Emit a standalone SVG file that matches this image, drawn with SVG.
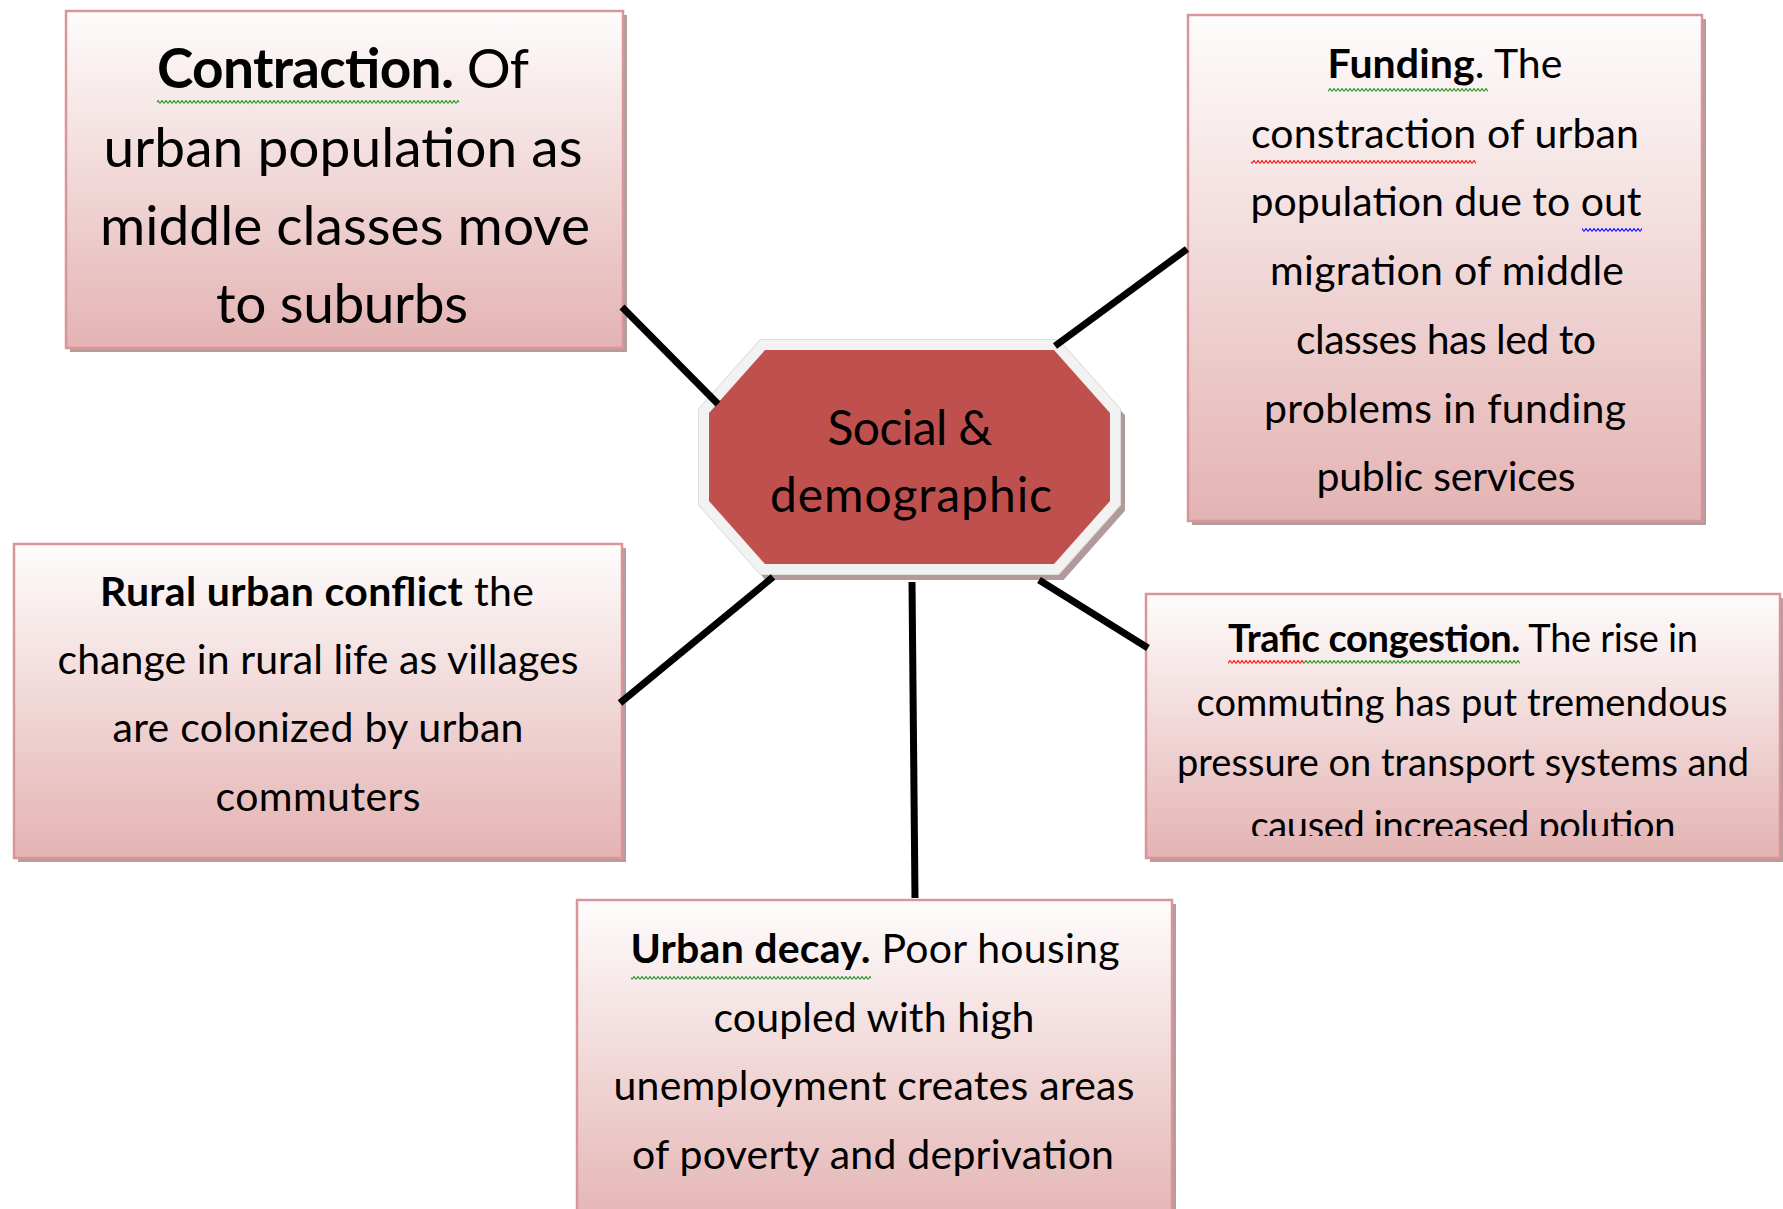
<svg xmlns="http://www.w3.org/2000/svg" width="1783" height="1209" viewBox="0 0 1783 1209">
<defs>
<linearGradient id="boxGrad" x1="0" y1="0" x2="0" y2="1">
<stop offset="0" stop-color="#fefcfc"/>
<stop offset="1" stop-color="#e4b3b3"/>
</linearGradient>
<pattern id="sqGreen" x="0" y="0" width="4" height="4" patternUnits="userSpaceOnUse">
<path d="M0,3.5 L2,0.5 L4,3.5" fill="none" stroke="#2f9a2f" stroke-width="1.2"/>
</pattern>
<pattern id="sqRed" x="0" y="0" width="4" height="4" patternUnits="userSpaceOnUse">
<path d="M0,3.5 L2,0.5 L4,3.5" fill="none" stroke="#ff1a1a" stroke-width="1.2"/>
</pattern>
<pattern id="sqBlue" x="0" y="0" width="4" height="4" patternUnits="userSpaceOnUse">
<path d="M0,3.5 L2,0.5 L4,3.5" fill="none" stroke="#1a1aff" stroke-width="1.2"/>
</pattern>
<clipPath id="trafClip"><rect x="1146" y="594" width="634" height="242"/></clipPath>
</defs>
<style>
.shadow{fill:#b39d9d;}
.box{fill:url(#boxGrad);stroke:#d9969a;stroke-width:2.5;}
.t{font-family:Lato,"Liberation Sans",sans-serif;fill:#000;text-anchor:middle;}
.b{font-weight:bold;}
.conn{stroke:#000;stroke-width:7;fill:none;stroke-linecap:butt;}
</style>

<g id="center">
<polygon points="765,350 1054,350 1110,413 1110,501 1054,564 765,564 709,501 709,413" transform="translate(5,6)" fill="#b39a9a" stroke="#b39a9a" stroke-width="20" stroke-linejoin="miter"/>
<polygon points="765,350 1054,350 1110,413 1110,501 1054,564 765,564 709,501 709,413" fill="#dedede" stroke="#dedede" stroke-width="22" stroke-linejoin="miter"/>
<polygon points="765,350 1054,350 1110,413 1110,501 1054,564 765,564 709,501 709,413" fill="#f2f2f2" stroke="#f2f2f2" stroke-width="20" stroke-linejoin="miter"/>
<polygon points="765,350 1054,350 1110,413 1110,501 1054,564 765,564 709,501 709,413" fill="#c0504d"/>
<text class="t" x="910" y="445" font-size="48" textLength="165">Social &amp;</text>
<text class="t" x="911" y="512" font-size="48" textLength="282">demographic</text>
</g>

<g id="contraction">
<rect class="shadow" x="70" y="15" width="557" height="337"/>
<rect class="box" x="66" y="11" width="557" height="337"/>
<rect x="157" y="100" width="302" height="4" fill="url(#sqGreen)"/>
<text class="t" x="343" y="88" font-size="55" textLength="372"><tspan class="b">Contraction.</tspan> Of</text>
<text class="t" x="343" y="167" font-size="55" textLength="479">urban population as</text>
<text class="t" x="345" y="245" font-size="55" textLength="490">middle classes move</text>
<text class="t" x="342" y="323" font-size="55" textLength="252">to suburbs</text>
</g>

<g id="funding">
<rect class="shadow" x="1192" y="19" width="514" height="506"/>
<rect class="box" x="1188" y="15" width="514" height="506"/>
<rect x="1328" y="88" width="160" height="4" fill="url(#sqGreen)"/>
<rect x="1251" y="160" width="225" height="4" fill="url(#sqRed)"/>
<rect x="1582" y="228" width="60" height="4" fill="url(#sqBlue)"/>
<text class="t" x="1445" y="78" font-size="41" textLength="235"><tspan class="b">Funding</tspan>. The</text>
<text class="t" x="1445" y="148" font-size="41" textLength="388">constraction of urban</text>
<text class="t" x="1446" y="216" font-size="41" textLength="391">population due to out</text>
<text class="t" x="1447" y="285" font-size="41" textLength="354">migration of middle</text>
<text class="t" x="1446" y="354" font-size="41" textLength="300">classes has led to</text>
<text class="t" x="1445" y="423" font-size="41" textLength="362">problems in funding</text>
<text class="t" x="1446" y="491" font-size="41" textLength="259">public services</text>
</g>

<g id="rural">
<rect class="shadow" x="18" y="548" width="608" height="314"/>
<rect class="box" x="14" y="544" width="608" height="314"/>
<text class="t" x="317" y="606" font-size="41" textLength="434"><tspan class="b">Rural urban conflict</tspan> the</text>
<text class="t" x="318" y="674" font-size="41" textLength="521">change in rural life as villages</text>
<text class="t" x="318" y="742" font-size="41" textLength="411">are colonized by urban</text>
<text class="t" x="318" y="811" font-size="41" textLength="205">commuters</text>
</g>

<g id="trafic">
<rect class="shadow" x="1150" y="598" width="634" height="264"/>
<rect class="box" x="1146" y="594" width="634" height="264"/>
<rect x="1228" y="660" width="76" height="4" fill="url(#sqRed)"/>
<rect x="1304" y="660" width="216" height="4" fill="url(#sqGreen)"/>
<g clip-path="url(#trafClip)">
<text class="t" x="1463" y="652" font-size="38" textLength="470"><tspan class="b">Trafic congestion.</tspan> The rise in</text>
<text class="t" x="1462" y="716" font-size="38" textLength="531">commuting has put tremendous</text>
<text class="t" x="1463" y="776" font-size="38" textLength="572">pressure on transport systems and</text>
<text class="t" x="1463" y="839" font-size="38" textLength="425">caused increased polution</text>
</g>
</g>

<g id="urban-decay">
<rect class="shadow" x="581" y="904" width="595" height="330"/>
<rect class="box" x="577" y="900" width="595" height="330"/>
<rect x="631" y="976" width="240" height="4" fill="url(#sqGreen)"/>
<text class="t" x="875" y="963" font-size="41" textLength="489"><tspan class="b">Urban decay.</tspan> Poor housing</text>
<text class="t" x="874" y="1032" font-size="41" textLength="321">coupled with high</text>
<text class="t" x="874" y="1100" font-size="41" textLength="521">unemployment creates areas</text>
<text class="t" x="873" y="1169" font-size="41" textLength="482">of poverty and deprivation</text>
</g>

<g id="connectors">
<line class="conn" x1="622" y1="307" x2="718" y2="404"/>
<line class="conn" x1="1187" y1="249" x2="1055" y2="346"/>
<line class="conn" x1="620" y1="703" x2="773" y2="577"/>
<line class="conn" x1="912" y1="582" x2="915" y2="898"/>
<line class="conn" x1="1039" y1="580" x2="1148" y2="648"/>
</g>
</svg>
